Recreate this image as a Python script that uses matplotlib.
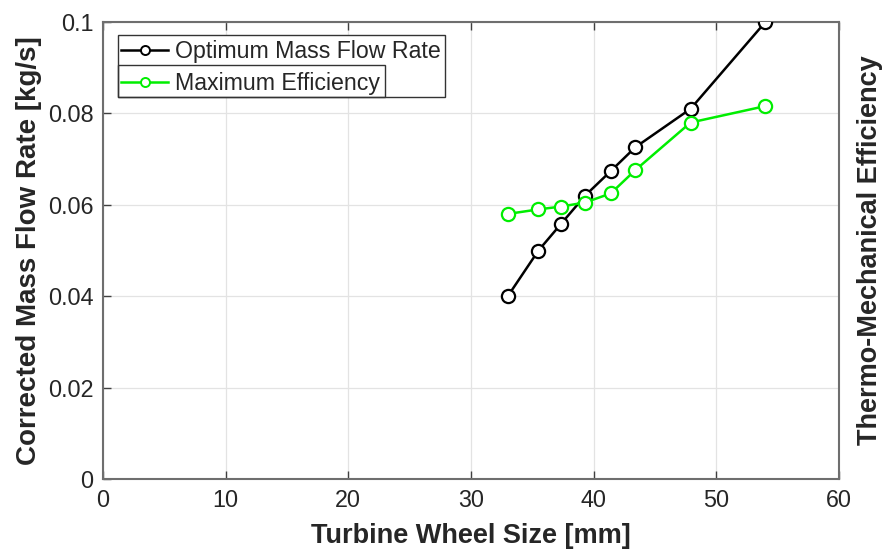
import matplotlib
matplotlib.use("Agg")
import matplotlib.pyplot as plt
from matplotlib.patches import Rectangle
from matplotlib.lines import Line2D

plt.rcParams['font.family'] = ['Liberation Sans', 'DejaVu Sans']

wheel_size = [33.0, 35.5, 37.3, 39.3, 41.4, 43.4, 47.9, 54.0]
mass_flow = [0.0400, 0.0500, 0.0557, 0.0620, 0.0674, 0.0726, 0.0810, 0.1000]
max_eff = [0.0580, 0.0590, 0.0596, 0.0605, 0.0625, 0.0676, 0.0780, 0.0816]
x_ticks = [0, 10, 20, 30, 40, 50, 60]
y_ticks = [0, 0.02, 0.04, 0.06, 0.08, 0.1]
y_tick_labels = ['0', '0.02', '0.04', '0.06', '0.08', '0.1']

W, H = 887, 552
fig = plt.figure(figsize=(W / 100, H / 100), dpi=100)
L, R, T, B = 103, 839, 22, 479
ax = fig.add_axes([L / W, 1 - B / H, (R - L) / W, (B - T) / H])

spine_c = '#6e6e6e'
ax.plot(wheel_size, mass_flow, color='black', lw=1.8, marker='o', ms=9.5,
        mfc='white', mec='black', mew=1.6, zorder=3)
ax.plot(wheel_size, max_eff, color='#00ee00', lw=1.8, marker='o', ms=9.5,
        mfc='white', mec='#00ee00', mew=1.6, zorder=3)

ax.set_xlim(0, 60)
ax.set_ylim(0, 0.1)
ax.set_xticks(x_ticks)
ax.set_yticks(y_ticks)
ax.set_yticklabels(y_tick_labels)
ax.grid(True, color='#e3e3e3', lw=0.9)
ax.set_axisbelow(True)
for s in ax.spines.values():
    s.set_color(spine_c)
    s.set_linewidth(1.5)
ax.tick_params(direction='in', length=6, width=1.0, color='#404040',
               top=True, right=True, labelsize=16.8, labelcolor='#262626', pad=7)

ax.set_xlabel('Turbine Wheel Size [mm]', fontsize=19.5, fontweight='bold',
              color='#262626', labelpad=8)
ax.set_ylabel('Corrected Mass Flow Rate [kg/s]', fontsize=20, fontweight='bold',
              color='#262626', labelpad=4)

ax2 = ax.twinx()
ax2.set_yticks([])
ax2.set_ylabel('Thermo-Mechanical Efficiency', fontsize=19.5, fontweight='bold',
               color='#262626', labelpad=13)
for s in ax2.spines.values():
    s.set_visible(False)

def fx(px):
    return (px - L) / (R - L)

def fy(py):
    return (B - py) / (B - T)

# legend frames (two overlapping boxes)
ax.add_patch(Rectangle((fx(118), fy(97)), fx(445) - fx(118), fy(35) - fy(97),
                       transform=ax.transAxes, fill=True, fc='white',
                       ec='#333333', lw=1.0, zorder=5))
ax.add_patch(Rectangle((fx(118), fy(97)), fx(385) - fx(118), fy(65) - fy(97),
                       transform=ax.transAxes, fill=False,
                       ec='#333333', lw=1.0, zorder=6))

h1 = Line2D([], [], color='black', lw=1.8, marker='o', ms=6.5, mfc='white', mec='black', mew=1.4)
h2 = Line2D([], [], color='#00ee00', lw=1.8, marker='o', ms=6.5, mfc='white', mec='#00ee00', mew=1.4)
leg = ax.legend([h1, h2], ['Optimum Mass Flow Rate', 'Maximum Efficiency'],
                loc='upper left', bbox_to_anchor=(fx(118), fy(37)),
                frameon=False, fontsize=16.7, handlelength=2.0,
                handletextpad=0.3, labelspacing=0.36, borderpad=0.15,
                borderaxespad=0.0)
leg.set_zorder(7)
for t in leg.get_texts():
    t.set_color('#262626')

fig.savefig('out.png', dpi=100)
